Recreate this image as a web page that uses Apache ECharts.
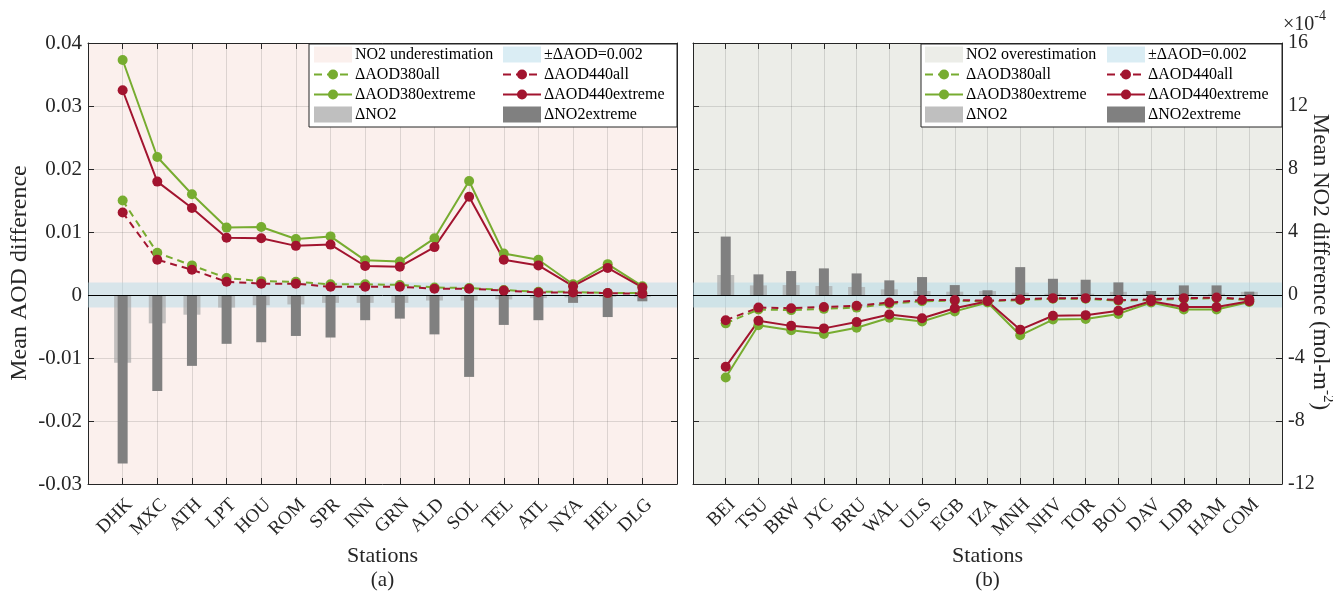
<!DOCTYPE html>
<html>
<head>
<meta charset="utf-8">
<script src="https://cdn.jsdelivr.net/npm/echarts@6/dist/echarts.min.js"></script>
<style>
  html, body { margin: 0; padding: 0; background: #ffffff; }
  #chart { width: 1333px; height: 595px; }
</style>
</head>
<body>
<div id="chart"></div>
<script>
// ---- Panel (a): stations where NO2 is underestimated ----
const stationsA = ['DHK','MXC','ATH','LPT','HOU','ROM','SPR','INN','GRN','ALD','SOL','TEL','ATL','NYA','HEL','DLG'];
const aod380AllA     = [0.0150, 0.0067, 0.0047, 0.0027, 0.0022, 0.0021, 0.0017, 0.0017, 0.0016, 0.0012, 0.0011, 0.0008, 0.0005, 0.0005, 0.0003, 0.0003];
const aod440AllA     = [0.0131, 0.0056, 0.0040, 0.0021, 0.0018, 0.0018, 0.0013, 0.0013, 0.0013, 0.0010, 0.0010, 0.0007, 0.0004, 0.0004, 0.0003, 0.0002];
const aod380ExtremeA = [0.0373, 0.0219, 0.0160, 0.0107, 0.0108, 0.0089, 0.0093, 0.0055, 0.0053, 0.0090, 0.0181, 0.0066, 0.0056, 0.0017, 0.0049, 0.0014];
const aod440ExtremeA = [0.0325, 0.0180, 0.0138, 0.0091, 0.0090, 0.0078, 0.0080, 0.0046, 0.0045, 0.0076, 0.0156, 0.0056, 0.0047, 0.0014, 0.0043, 0.0012];
// NO2 differences in units of 1e-4 mol m^-2
const no2A           = [-4.3, -1.8, -1.25, -0.8, -0.65, -0.6, -0.5, -0.5, -0.5, -0.35, -0.35, -0.28, -0.2, -0.15, -0.12, -0.12];
const no2ExtremeA    = [-10.7, -6.1, -4.5, -3.1, -3.0, -2.6, -2.7, -1.6, -1.5, -2.5, -5.2, -1.9, -1.6, -0.5, -1.4, -0.4];

// ---- Panel (b): stations where NO2 is overestimated ----
const stationsB = ['BEI','TSU','BRW','JYC','BRU','WAL','ULS','EGB','IZA','MNH','NHV','TOR','BOU','DAV','LDB','HAM','COM'];
const aod380AllB     = [-0.0045, -0.0023, -0.0024, -0.0022, -0.0020, -0.0014, -0.0010, -0.0009, -0.0010, -0.0008, -0.0006, -0.0006, -0.0009, -0.0008, -0.0006, -0.0005, -0.0008];
const aod440AllB     = [-0.0040, -0.0020, -0.0021, -0.0019, -0.0017, -0.0012, -0.0008, -0.0008, -0.0009, -0.0007, -0.0005, -0.0005, -0.0008, -0.0007, -0.0005, -0.0004, -0.0007];
const aod380ExtremeB = [-0.0131, -0.0048, -0.0056, -0.0062, -0.0052, -0.0036, -0.0042, -0.0026, -0.0012, -0.0064, -0.0039, -0.0038, -0.0030, -0.0012, -0.0023, -0.0023, -0.0011];
const aod440ExtremeB = [-0.0114, -0.0041, -0.0049, -0.0053, -0.0043, -0.0031, -0.0037, -0.0021, -0.0010, -0.0055, -0.0033, -0.0032, -0.0025, -0.0010, -0.0019, -0.0019, -0.0010];
const no2B           = [1.27, 0.61, 0.63, 0.57, 0.51, 0.36, 0.25, 0.21, 0.25, 0.15, 0.08, 0.08, 0.2, 0.08, 0.08, 0.08, 0.2];
const no2ExtremeB    = [3.71, 1.31, 1.52, 1.69, 1.37, 0.93, 1.14, 0.63, 0.30, 1.77, 1.03, 0.97, 0.80, 0.25, 0.61, 0.61, 0.21];

// Axis ranges and the AOD tolerance band
const aodAxis = { min: -0.03, max: 0.04, interval: 0.01 };
const no2Axis = { min: -12, max: 16, interval: 4 };
const aodBand = 0.002;

const FONT = "'Liberation Serif','Times New Roman',serif";
const INK = '#262626';
const GREEN = '#77ac30';
const RED = '#a2142f';
const BAND = 'rgba(173,216,230,0.45)';
const BG_A = '#fbf0ed';
const BG_B = '#ecede8';
const GRIDLINE = 'rgba(38,38,38,0.14)';

// one empty slot at each end so the stations sit one step in from the frame
const padCats = arr => [' ', ...arr, '  '];
const padVals = arr => ['-', ...arr, '-'];

const grids = [
  { left: 88, right: 656, top: 43, bottom: 111, show: true, backgroundColor: BG_A, borderWidth: 0, outerBoundsMode: 'none' },
  { left: 693, right: 51, top: 43, bottom: 111, show: true, backgroundColor: BG_B, borderWidth: 0, outerBoundsMode: 'none' }
];

function xAxes(gi, names) {
  const common = {
    type: 'category', gridIndex: gi, data: padCats(names), boundaryGap: false,
    axisLine: { show: true, onZero: false, lineStyle: { color: INK, width: 1 } },
    axisTick: { show: true, inside: true, length: 6, interval: 0, lineStyle: { color: INK } }
  };
  return [
    Object.assign({}, common, {
      position: 'bottom',
      axisLabel: { interval: 0, rotate: 45, fontFamily: FONT, fontSize: 19, color: INK, margin: 11, verticalAlign: 'top' },
      splitLine: { show: true, interval: 0, lineStyle: { color: GRIDLINE, width: 1 } }
    }),
    Object.assign({}, common, {
      position: 'top',
      axisLabel: { show: false },
      splitLine: { show: false }
    })
  ];
}

function yAxes(gi, showAodLabels, showNo2Labels) {
  const line = { show: true, onZero: false, lineStyle: { color: INK, width: 1 } };
  const tick = { show: true, inside: true, length: 6, lineStyle: { color: INK } };
  return [
    {
      type: 'value', gridIndex: gi, position: 'left',
      min: aodAxis.min, max: aodAxis.max, interval: aodAxis.interval,
      axisLine: line, axisTick: tick,
      axisLabel: {
        show: showAodLabels, fontFamily: FONT, fontSize: 21, color: INK, margin: 6,
        formatter: v => String(Math.round(v * 100) / 100)
      },
      splitLine: { show: true, lineStyle: { color: GRIDLINE, width: 1 } }
    },
    {
      type: 'value', gridIndex: gi, position: 'right',
      min: no2Axis.min, max: no2Axis.max, interval: no2Axis.interval,
      axisLine: line, axisTick: tick,
      axisLabel: { show: showNo2Labels, fontFamily: FONT, fontSize: 20, color: INK, margin: 6 },
      splitLine: { show: false }
    }
  ];
}

function panelSeries(gi, d) {
  const xb = gi * 2, yb = gi * 2;
  const empty = padVals(d.no2.map(() => '-'));
  const lineSeries = (name, data, color, dashed) => ({
    type: 'line', name, xAxisIndex: xb, yAxisIndex: yb, data: padVals(data),
    symbol: 'circle', symbolSize: 10, showSymbol: true,
    lineStyle: { color, width: 2, type: dashed ? [7, 5] : 'solid' },
    itemStyle: { color }, z: 5, silent: true
  });
  return [
    // tolerance band
    {
      type: 'line', xAxisIndex: xb, yAxisIndex: yb, data: empty, z: 1, silent: true,
      markArea: { silent: true, itemStyle: { color: BAND }, data: [[{ yAxis: -aodBand }, { yAxis: aodBand }]] }
    },
    {
      type: 'bar', name: 'ΔNO2', xAxisIndex: xb, yAxisIndex: yb + 1, data: padVals(d.no2),
      barWidth: 17, itemStyle: { color: 'rgba(170,170,170,0.7)' }, z: 2, silent: true
    },
    {
      type: 'bar', name: 'ΔNO2extreme', xAxisIndex: xb + 1, yAxisIndex: yb + 1, data: padVals(d.no2Ext),
      barWidth: 10, itemStyle: { color: '#808080' }, z: 3, silent: true
    },
    // zero line
    {
      type: 'line', xAxisIndex: xb, yAxisIndex: yb, data: empty, z: 4, silent: true,
      markLine: {
        silent: true, symbol: ['none', 'none'], label: { show: false },
        lineStyle: { color: '#000', width: 1, type: 'solid' },
        data: [{ yAxis: 0 }]
      }
    },
    lineSeries('ΔAOD380all', d.a380, GREEN, true),
    lineSeries('ΔAOD440all', d.a440, RED, true),
    lineSeries('ΔAOD380extreme', d.e380, GREEN, false),
    lineSeries('ΔAOD440extreme', d.e440, RED, false)
  ];
}

function legendBlock(box, cols, rows, entries) {
  const els = [{
    type: 'rect', z: 100,
    shape: { x: box.x, y: box.y, width: box.w, height: box.h },
    style: { fill: '#ffffff', stroke: INK, lineWidth: 1 }
  }];
  entries.forEach((e, i) => {
    const cx = cols[i % 2], cy = rows[Math.floor(i / 2)];
    if (e.kind === 'patch') {
      els.push({ type: 'rect', z: 101, shape: { x: cx, y: cy - 8, width: 38, height: 16 }, style: { fill: e.color } });
    } else {
      els.push({ type: 'line', z: 101, shape: { x1: cx, y1: cy, x2: cx + 38, y2: cy },
        style: { stroke: e.color, lineWidth: 2, lineDash: e.dashed ? [8, 5] : null } });
      els.push({ type: 'circle', z: 102, shape: { cx: cx + 19, cy: cy, r: 5 }, style: { fill: e.color } });
    }
    els.push({ type: 'text', z: 102, x: cx + 41, y: cy,
      style: { text: e.text, font: `16px ${FONT}`, fill: '#000', verticalAlign: 'middle', align: 'left' } });
  });
  return els;
}

const legendEntries = bgLabel => [
  { kind: 'patch', color: bgLabel.color, text: bgLabel.text },
  { kind: 'patch', color: BAND, text: '±ΔAOD=0.002' },
  { kind: 'line', dashed: true, color: GREEN, text: 'ΔAOD380all' },
  { kind: 'line', dashed: true, color: RED, text: 'ΔAOD440all' },
  { kind: 'line', dashed: false, color: GREEN, text: 'ΔAOD380extreme' },
  { kind: 'line', dashed: false, color: RED, text: 'ΔAOD440extreme' },
  { kind: 'patch', color: 'rgba(170,170,170,0.75)', text: 'ΔNO2' },
  { kind: 'patch', color: '#808080', text: 'ΔNO2extreme' }
];

const legendRows = [54.5, 74.5, 94.5, 114.5];

const textEl = (text, x, y, size, extra) => Object.assign({
  type: 'text', x, y, z: 110,
  style: { text, font: `${size}px ${FONT}`, fill: INK, align: 'center', verticalAlign: 'middle' }
}, extra || {});

const graphics = [
  ...legendBlock({ x: 309, y: 44, w: 368, h: 83 }, [314, 503],
    legendRows, legendEntries({ color: BG_A, text: 'NO2 underestimation' })),
  ...legendBlock({ x: 921, y: 44, w: 361, h: 83 }, [925, 1107],
    legendRows, legendEntries({ color: BG_B, text: 'NO2 overestimation' })),
  textEl('Mean AOD difference', 20, 273, 24, { rotation: Math.PI / 2 }),
  {
    type: 'text', x: 1322, y: 262, z: 110, rotation: -Math.PI / 2,
    style: {
      text: '{a|Mean NO2 difference (mol-m}{s|-2}{a|)}',
      align: 'center', verticalAlign: 'middle', fill: INK,
      rich: {
        a: { fontFamily: FONT, fontSize: 23, fill: INK, lineHeight: 26, verticalAlign: 'bottom' },
        s: { fontFamily: FONT, fontSize: 15, fill: INK, lineHeight: 26, verticalAlign: 'top' }
      }
    }
  },
  {
    type: 'text', x: 1283, y: 22, z: 110,
    style: {
      text: '{a|×10}{s|-4}', align: 'left', verticalAlign: 'middle', fill: INK,
      rich: {
        a: { fontFamily: FONT, fontSize: 20, fill: INK, lineHeight: 26, verticalAlign: 'bottom' },
        s: { fontFamily: FONT, fontSize: 14, fill: INK, lineHeight: 26, verticalAlign: 'top' }
      }
    }
  },
  textEl('Stations', 382.5, 556, 22),
  textEl('(a)', 382.5, 580, 21),
  textEl('Stations', 987.5, 556, 22),
  textEl('(b)', 987.5, 580, 21)
];

const option = {
  animation: false,
  backgroundColor: '#ffffff',
  textStyle: { fontFamily: FONT },
  grid: grids,
  xAxis: [...xAxes(0, stationsA), ...xAxes(1, stationsB)],
  yAxis: [...yAxes(0, true, false), ...yAxes(1, false, true)],
  series: [
    ...panelSeries(0, { a380: aod380AllA, a440: aod440AllA, e380: aod380ExtremeA, e440: aod440ExtremeA, no2: no2A, no2Ext: no2ExtremeA }),
    ...panelSeries(1, { a380: aod380AllB, a440: aod440AllB, e380: aod380ExtremeB, e440: aod440ExtremeB, no2: no2B, no2Ext: no2ExtremeB })
  ],
  graphic: graphics
};

const chart = echarts.init(document.getElementById('chart'), null, { renderer: 'canvas' });
chart.setOption(option);
</script>
</body>
</html>
